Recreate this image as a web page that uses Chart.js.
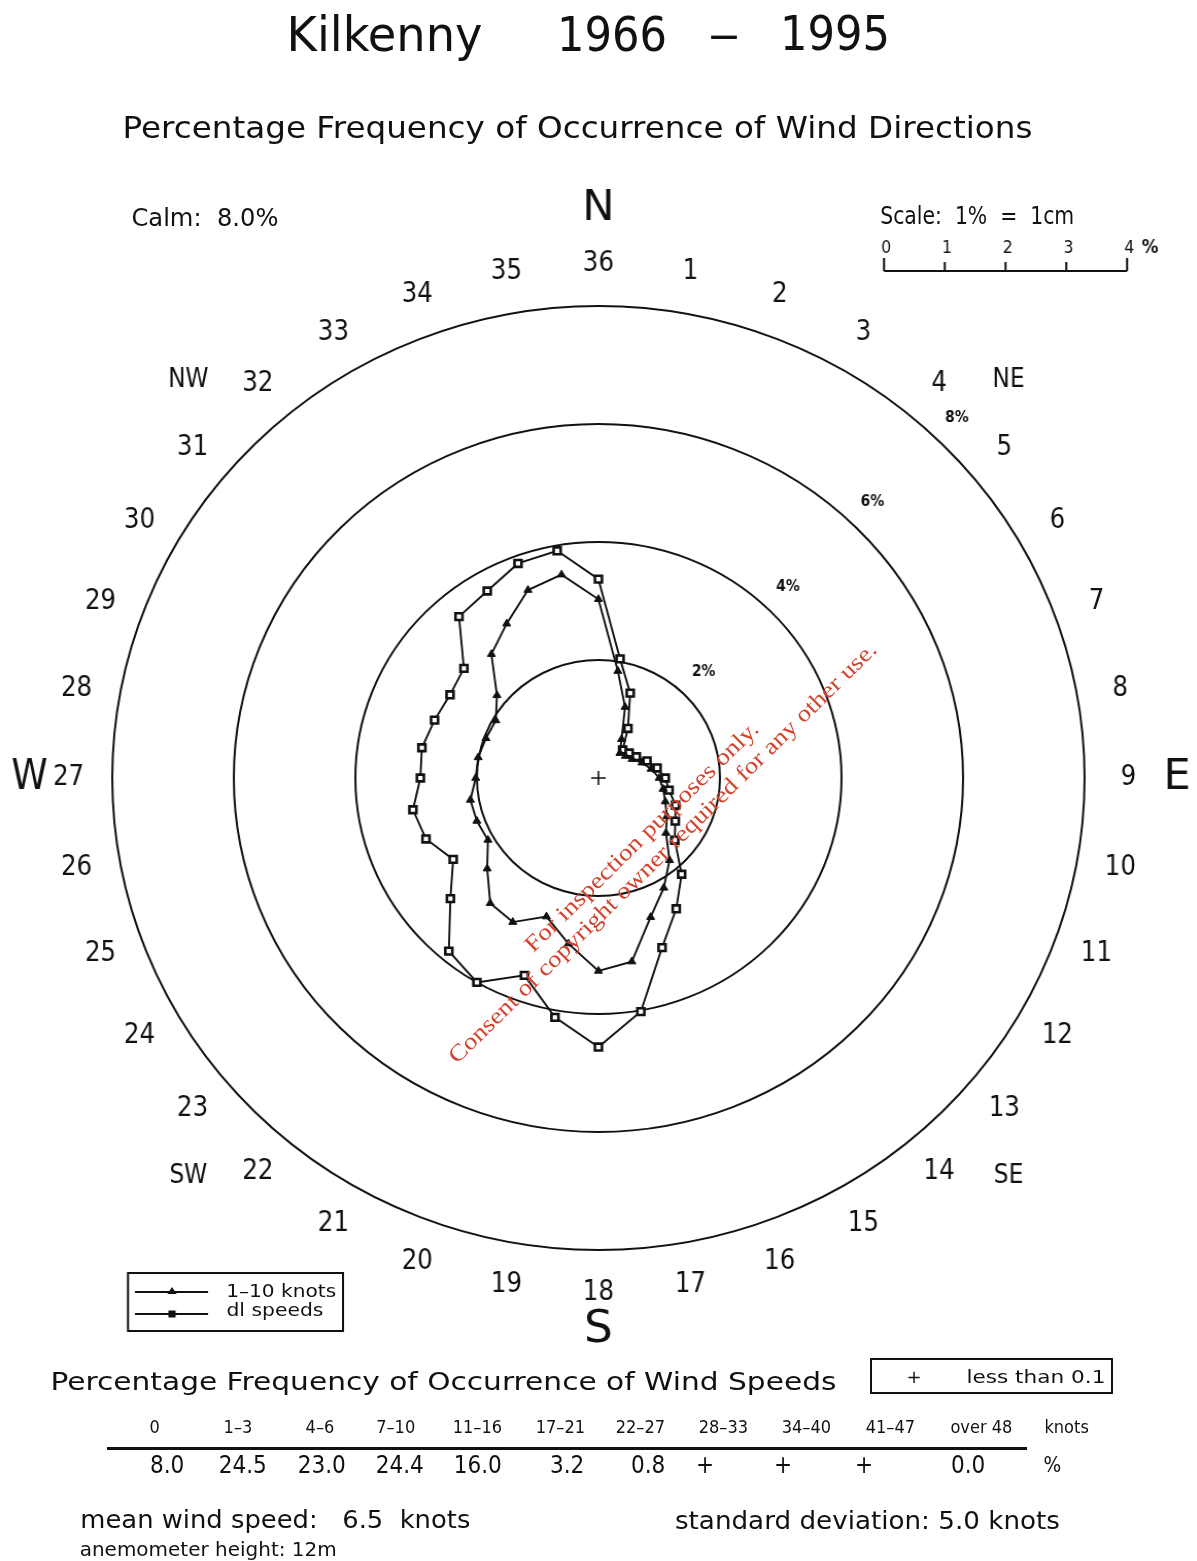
<!DOCTYPE html>
<html><head><meta charset="utf-8">
<script src="https://cdn.jsdelivr.net/npm/chart.js@4.4.1/dist/chart.umd.min.js"></script>
<style>
html,body{margin:0;padding:0;background:#fff;}
#page{position:relative;width:1197px;height:1561px;overflow:hidden;background:#fff;}
#stretch{position:absolute;left:0;top:0;width:1162px;height:1561px;transform:scaleX(1.03);transform-origin:0 0;}
.t{position:absolute;white-space:pre;font-family:"DejaVu Sans",sans-serif;color:#111;line-height:1;transform-origin:center center;}
.wm{position:absolute;white-space:pre;font-family:"Liberation Serif","DejaVu Serif",serif;color:#d4432c;line-height:1;transform-origin:center center;}
.rule{position:absolute;background:#111;}
.box{position:absolute;border:2px solid #111;box-sizing:border-box;}
</style></head>
<body><div id="page">
<div id="stretch"><canvas id="rose" width="1162" height="1561"></canvas></div>
</div>
<script>
// ---------------- data ----------------
const directionLabels = ['36','1','2','3','4','5','6','7','8','9','10','11','12','13','14','15','16','17',
                         '18','19','20','21','22','23','24','25','26','27','28','29','30','31','32','33','34','35'];
// percentage frequency per 10-degree direction, starting at 36 (north), clockwise
const pctAllSpeeds = [3.37, 2.05, 1.53, 0.97, 0.62, 0.66, 0.72, 0.85, 0.98, 1.10, 1.18, 1.35, 1.46, 1.64,
                      2.13, 2.56, 3.06, 4.02, 4.56, 4.12, 3.56, 4.00, 3.83, 3.18, 2.76, 3.02, 3.10, 2.93,
                      2.95, 2.87, 2.82, 2.89, 3.57, 3.66, 3.87, 3.91];
const pct1to10Knots = [3.03, 1.84, 1.28, 0.76, 0.55, 0.58, 0.64, 0.76, 0.88, 1.00, 1.08, 1.17, 1.30, 1.45,
                       1.82, 2.15, 2.51, 3.16, 3.27, 2.85, 2.50, 2.82, 2.77, 2.39, 2.10, 2.13, 2.14, 2.02,
                       2.01, 1.97, 1.95, 2.18, 2.74, 3.02, 3.39, 3.50];
const seriesNames = ['1\u201310 knots', 'dl speeds'];
const ringTicks = [2, 4, 6, 8];
const scaleBarTicks = ['0', '1', '2', '3', '4'];
const speedClasses = ['0', '1\u20133', '4\u20136', '7\u201310', '11\u201316', '17\u201321', '22\u201327', '28\u201333', '34\u201340', '41\u201347', 'over 48'];
const speedPercent = ['8.0', '24.5', '23.0', '24.4', '16.0', '3.2', '0.8', '+', '+', '+', '0.0'];
const calmPct = '8.0';
const meanSpeed = '6.5';
const stdDev = '5.0';
const anemometerHeight = '12m';

// ---------------- layout helpers ----------------
const K = 1.03;                 // horizontal stretch of the scanned original
const cxp = x => x / K;         // page x -> canvas x
const page = document.getElementById('page');

function place(text, o, cls) {
  const el = document.createElement('div');
  el.className = cls || 't';
  el.textContent = text;
  el.style.fontSize = o.size + 'px';
  if (o.weight) el.style.fontWeight = o.weight;
  page.appendChild(el);
  const w = el.getBoundingClientRect().width;
  let sx = o.sx || 1, cx = o.cx;
  if (o.l !== undefined && o.r !== undefined) { sx = (o.r - o.l) / w; cx = (o.l + o.r) / 2; }
  if (o.len) sx = o.len / w;
  el.style.left = (cx - w / 2) + 'px';
  el.style.top = (o.cy - 0.48 * o.size) + 'px';
  el.style.transform = (o.rot ? 'rotate(' + o.rot + 'deg) ' : '') + 'scaleX(' + sx + ')';
  return el;
}
function rect(cls, l, t, w, h) {
  const el = document.createElement('div');
  el.className = cls;
  el.style.left = l + 'px'; el.style.top = t + 'px';
  el.style.width = w + 'px'; el.style.height = h + 'px';
  page.appendChild(el);
}

// headings
place('Kilkenny', {l: 287, r: 483, cy: 33, size: 48});
place('1966', {l: 557, r: 667, cy: 33, size: 48});
place('\u2013', {l: 708, r: 740, cy: 33, size: 48});
place('1995', {l: 780, r: 890, cy: 32, size: 48});
place('Percentage Frequency of Occurrence of Wind Directions', {l: 122, r: 1032, cy: 127, size: 30});
place('Calm:  ' + calmPct + '%', {l: 131, r: 278, cy: 218, size: 24});
place('Scale:  1%  =  1cm', {l: 880, r: 1074, cy: 216, size: 24});

// legend text
place(seriesNames[0], {l: 226, r: 336, cy: 1291, size: 18});
place(seriesNames[1], {l: 226, r: 323, cy: 1310, size: 18});

// wind speed table
place('Percentage Frequency of Occurrence of Wind Speeds', {l: 50, r: 836, cy: 1381, size: 25});
rect('box', 870, 1358, 243, 36);
place('+', {cx: 914, cy: 1377, size: 18});
place('less than 0.1', {l: 966, r: 1105, cy: 1377, size: 18});
const headerX = [155, 238, 320, 396, 477, 560, 640, 723, 806, 890, 981];
const valueX = [167, 243, 322, 400, 478, 567, 648, 705, 783, 864, 968];
speedClasses.forEach((s, i) => place(s, {cx: headerX[i], cy: 1427, size: 18, sx: 0.9}));
place('knots', {cx: 1067, cy: 1427, size: 18, sx: 0.9});
rect('rule', 107, 1447, 920, 3);
speedPercent.forEach((s, i) => place(s, {cx: valueX[i], cy: 1465, size: 24, sx: 0.9}));
place('%', {cx: 1052, cy: 1465, size: 22, sx: 0.85});
place('mean wind speed:   ' + meanSpeed + '  knots', {l: 80, r: 470, cy: 1520, size: 24});
place('standard deviation: ' + stdDev + ' knots', {l: 675, r: 1060, cy: 1521, size: 24});
place('anemometer height: ' + anemometerHeight, {l: 80, r: 337, cy: 1549, size: 19});

// watermark
place('For inspection purposes only.', {cx: 641, cy: 836, size: 23, len: 318, rot: -44.5}, 'wm');
place('Consent of copyright owner required for any other use.', {cx: 662, cy: 852, size: 23, len: 590, rot: -44.5}, 'wm');

// ---------------- chart ----------------
function ctext(ctx, str, x, y, size, sx, weight) {
  ctx.save();
  ctx.font = (weight || 'normal') + ' ' + size + 'px "DejaVu Sans", sans-serif';
  ctx.textAlign = 'center';
  ctx.textBaseline = 'middle';
  ctx.fillStyle = '#111';
  ctx.translate(x, y);
  ctx.scale(sx || 1, 1);
  ctx.fillText(str, 0, 0);
  ctx.restore();
}

const roseDecor = {
  id: 'roseDecor',
  afterDraw(chart) {
    const s = chart.scales.r, ctx = chart.ctx, R = s.drawingArea;
    const cx = s.xCenter, cy = s.yCenter;
    const at = (deg, d) => ({x: cx + d * Math.sin(deg * Math.PI / 180), y: cy - d * Math.cos(deg * Math.PI / 180)});
    ctx.save();
    ctx.strokeStyle = '#111';
    ctx.lineWidth = 1.6;
    // centre cross
    ctx.beginPath();
    ctx.moveTo(cx - 7, cy); ctx.lineTo(cx + 7, cy);
    ctx.moveTo(cx, cy - 7); ctx.lineTo(cx, cy + 7);
    ctx.stroke();
    // direction numbers
    directionLabels.forEach((lab, i) => {
      const p = s.getPointPosition(i, R * 1.09);
      ctext(ctx, lab, p.x, p.y, 28, 0.85);
    });
    // cardinal letters
    [['N', 0, 1.205, 42, 1], ['E', 90, 1.19, 42, 1], ['S', 180, 1.17, 44, 1], ['W', 270, 1.17, 42, 0.85]]
      .forEach(([t, b, f, sz, sx]) => { const p = at(b, R * f); ctext(ctx, t, p.x, p.y, sz, sx); });
    [['NE', 45], ['SE', 135], ['SW', 225], ['NW', 315]]
      .forEach(([t, b]) => { const p = at(b, R * 1.193); ctext(ctx, t, p.x, p.y, 27, 0.84); });
    // ring labels
    ringTicks.forEach(v => {
      const p = at(44, s.getDistanceFromCenterForValue(v) + 29);
      ctext(ctx, v + '%', p.x, p.y, 15, 0.9, 'bold');
    });
    // scale bar (1% = one ring unit)
    const u = s.getDistanceFromCenterForValue(1);
    const x0 = cxp(884), yb = 271;
    ctx.lineWidth = 2;
    ctx.beginPath();
    ctx.moveTo(x0, yb); ctx.lineTo(x0 + 4 * u, yb);
    scaleBarTicks.forEach((t, i) => {
      const x = x0 + i * u;
      ctx.moveTo(x, yb); ctx.lineTo(x, (i === 0 || i === 4) ? yb - 13 : yb - 9);
    });
    ctx.stroke();
    scaleBarTicks.forEach((t, i) => ctext(ctx, t, x0 + i * u + 2, 248, 18, 0.85));
    ctext(ctx, '%', cxp(1150), 248, 19, 0.85, 'bold');
    // legend box
    ctx.lineWidth = 2;
    ctx.strokeRect(cxp(128), 1273, cxp(343) - cxp(128), 58);
    ctx.lineWidth = 1.8;
    const ly = [1292, 1314];
    ly.forEach((y, k) => {
      ctx.beginPath(); ctx.moveTo(cxp(135), y); ctx.lineTo(cxp(208), y); ctx.stroke();
      ctx.fillStyle = '#111';
      const mx = cxp(172);
      ctx.beginPath();
      if (k === 0) { ctx.moveTo(mx, y - 5); ctx.lineTo(mx + 4.5, y + 2); ctx.lineTo(mx - 4.5, y + 2); ctx.closePath(); }
      else { ctx.rect(mx - 3.5, y - 3.5, 7, 7); }
      ctx.fill();
    });
    ctx.restore();
  }
};

new Chart(document.getElementById('rose'), {
  type: 'radar',
  data: {
    labels: directionLabels,
    datasets: [
      {label: seriesNames[0], data: pct1to10Knots, borderColor: '#111', borderWidth: 1.9, fill: false,
       pointStyle: 'triangle', pointRadius: 4.5, pointBackgroundColor: '#111', pointBorderColor: '#111', pointBorderWidth: 1},
      {label: seriesNames[1], data: pctAllSpeeds, borderColor: '#111', borderWidth: 1.9, fill: false,
       pointStyle: 'rect', pointRadius: 4.8, pointBackgroundColor: '#ffffff', pointBorderColor: '#111', pointBorderWidth: 2.6}
    ]
  },
  options: {
    responsive: false,
    animation: false,
    devicePixelRatio: 1,
    layout: {padding: {left: 109, right: 109, top: 306, bottom: 311}},
    plugins: {legend: {display: false}, tooltip: {enabled: false}, title: {display: false}},
    elements: {line: {tension: 0}},
    scales: {
      r: {
        min: 0, max: 8,
        ticks: {display: false, stepSize: 2},
        grid: {circular: true, color: '#111', lineWidth: 2},
        angleLines: {display: false},
        pointLabels: {display: false}
      }
    }
  },
  plugins: [roseDecor]
});
</script>
</body></html>
